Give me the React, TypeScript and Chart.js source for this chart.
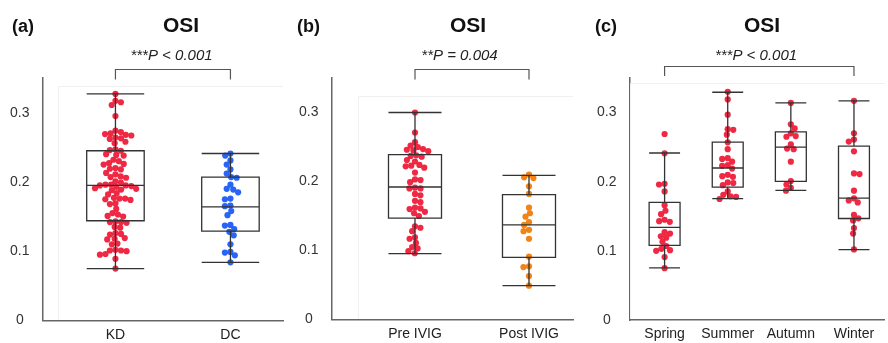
import React, { useEffect, useRef } from 'react';
import { Chart, registerables } from 'chart.js';

Chart.register(...registerables);

// ---------------- data ----------------
const Y_TICKS = [0, 0.1, 0.2, 0.3];
const Y_MAX = 0.35;

const TITLE = 'OSI';
const PANEL_LABELS = ['(a)', '(b)', '(c)'];
const P_LABELS = ['***P < 0.001', '**P = 0.004', '***P < 0.001'];

const CATEGORIES_A = ['KD', 'DC'];
const CATEGORIES_B = ['Pre IVIG', 'Post IVIG'];
const CATEGORIES_C = ['Spring', 'Summer', 'Autumn', 'Winter'];

const KD_VALUES = [
  0.327, 0.317, 0.315, 0.311, 0.295, 0.274, 0.272, 0.27, 0.268, 0.269, 0.267, 0.264, 0.262, 0.263,
  0.258, 0.256, 0.247, 0.246, 0.245, 0.24, 0.238, 0.239, 0.232, 0.23, 0.227, 0.226, 0.225, 0.22,
  0.218, 0.219, 0.213, 0.211, 0.208, 0.206, 0.207, 0.201, 0.199, 0.196, 0.195, 0.195, 0.194, 0.196,
  0.193, 0.19, 0.189, 0.191, 0.188, 0.184, 0.182, 0.177, 0.176, 0.175, 0.176, 0.174, 0.169, 0.168,
  0.161, 0.155, 0.153, 0.151, 0.15, 0.143, 0.142, 0.141, 0.142, 0.135, 0.134, 0.126, 0.125, 0.124,
  0.119, 0.118, 0.117, 0.111, 0.11, 0.102, 0.101, 0.101, 0.1, 0.096, 0.095, 0.089, 0.075,
];
const DC_VALUES = [
  0.241, 0.238, 0.231, 0.225, 0.218, 0.212, 0.207, 0.206, 0.196, 0.19, 0.189, 0.185, 0.176, 0.175,
  0.166, 0.165, 0.158, 0.152, 0.138, 0.137, 0.132, 0.128, 0.123, 0.11, 0.099, 0.098, 0.094, 0.084,
];
const PRE_IVIG_VALUES = [
  0.3, 0.271, 0.257, 0.252, 0.25, 0.247, 0.246, 0.245, 0.244, 0.238, 0.237, 0.236, 0.231, 0.229,
  0.224, 0.223, 0.222, 0.22, 0.213, 0.203, 0.202, 0.199, 0.191, 0.19, 0.19, 0.182, 0.18, 0.172,
  0.17, 0.162, 0.161, 0.16, 0.156, 0.154, 0.15, 0.135, 0.133, 0.128, 0.119, 0.117, 0.111, 0.105,
  0.103, 0.099, 0.096,
];
const POST_IVIG_VALUES = [
  0.21, 0.206, 0.205, 0.193, 0.182, 0.162, 0.154, 0.149, 0.141, 0.137, 0.13, 0.128, 0.117, 0.091,
  0.077, 0.076, 0.063, 0.049,
];
const SPRING_VALUES = [
  0.269, 0.241, 0.197, 0.196, 0.186, 0.166, 0.158, 0.153, 0.145, 0.143, 0.142, 0.127, 0.125, 0.121,
  0.119, 0.113, 0.107, 0.103, 0.101, 0.1, 0.091, 0.075,
];
const SUMMER_VALUES = [
  0.33, 0.319, 0.297, 0.276, 0.275, 0.268, 0.257, 0.247, 0.234, 0.233, 0.229, 0.224, 0.223, 0.219,
  0.21, 0.208, 0.207, 0.199, 0.198, 0.195, 0.186, 0.181, 0.179, 0.178, 0.175,
];
const AUTUMN_VALUES = [
  0.314, 0.283, 0.277, 0.27, 0.266, 0.265, 0.254, 0.248, 0.247, 0.229, 0.201, 0.196, 0.191, 0.187,
];
const WINTER_VALUES = [
  0.317, 0.27, 0.261, 0.258, 0.244, 0.212, 0.211, 0.187, 0.176, 0.173, 0.17, 0.152, 0.147, 0.144,
  0.133, 0.125, 0.102,
];

// box statistics: [lower whisker, Q1, median, Q3, upper whisker]
const KD_BOX = [0.075, 0.144, 0.195, 0.245, 0.327];
const DC_BOX = [0.084, 0.129, 0.164, 0.207, 0.241];
const PRE_IVIG_BOX = [0.0955, 0.147, 0.192, 0.239, 0.3];
const POST_IVIG_BOX = [0.049, 0.09, 0.137, 0.181, 0.209];
const SPRING_BOX = [0.0754, 0.108, 0.134, 0.17, 0.2415];
const SUMMER_BOX = [0.1754, 0.1922, 0.2198, 0.2574, 0.3294];
const AUTUMN_BOX = [0.1874, 0.2005, 0.25, 0.272, 0.314];
const WINTER_BOX = [0.1019, 0.1468, 0.1763, 0.2516, 0.3169];

// ---------------- styles ----------------
const RED = 'rgba(238, 30, 58, 0.95)';
const BLUE = 'rgba(28, 92, 245, 0.95)';
const ORANGE = 'rgba(240, 125, 10, 0.95)';
const FONT = "'Liberation Sans', Arial, Helvetica, sans-serif";
const AXIS_COLOR = '#666666';
const BOX_COLOR = '#333333';
const H = 343;

type Spec = {
  key: string;
  left: number;
  width: number;
  axisLeft: number;
  plotRight: number;
  plotTop: number;
  plotBottom: number;
  xMin: number;
  xMax: number;
  categories: string[];
  groups: number[][];
  boxes: number[][];
  colors: string[];
  boxWidth: number;
  label: string;
  labelX: number;
  titleX: number;
  pText: string;
  pX: number;
  bracket: [number, number];
  bracketY: number;
  bracketDrop: number;
  faint: [number, number];
};

const PANELS: Spec[] = [
  {
    key: 'a', left: 0, width: 290, axisLeft: 43, plotRight: 283, plotTop: 78, plotBottom: 320.5,
    xMin: -0.63, xMax: 1.457, categories: CATEGORIES_A, groups: [KD_VALUES, DC_VALUES],
    boxes: [KD_BOX, DC_BOX], colors: [RED, BLUE], boxWidth: 0.5,
    label: PANEL_LABELS[0], labelX: 12, titleX: 181, pText: P_LABELS[0], pX: 171.5,
    bracket: [0, 1], bracketY: 69.5, bracketDrop: 10, faint: [58, 86],
  },
  {
    key: 'b', left: 290, width: 290, axisLeft: 42, plotRight: 283, plotTop: 78, plotBottom: 319.5,
    xMin: -0.728, xMax: 1.386, categories: CATEGORIES_B, groups: [PRE_IVIG_VALUES, POST_IVIG_VALUES],
    boxes: [PRE_IVIG_BOX, POST_IVIG_BOX], colors: [RED, ORANGE], boxWidth: 0.465,
    label: PANEL_LABELS[1], labelX: 7, titleX: 178, pText: P_LABELS[1], pX: 169.5,
    bracket: [0, 1], bracketY: 69.5, bracketDrop: 10, faint: [68, 96],
  },
  {
    key: 'c', left: 580, width: 308, axisLeft: 50, plotRight: 308, plotTop: 78, plotBottom: 320,
    xMin: -0.548, xMax: 3.49, categories: CATEGORIES_C,
    groups: [SPRING_VALUES, SUMMER_VALUES, AUTUMN_VALUES, WINTER_VALUES],
    boxes: [SPRING_BOX, SUMMER_BOX, AUTUMN_BOX, WINTER_BOX], colors: [RED, RED, RED, RED], boxWidth: 0.49,
    label: PANEL_LABELS[2], labelX: 15, titleX: 182, pText: P_LABELS[2], pX: 176,
    bracket: [0, 3], bracketY: 66.5, bracketDrop: 9.5, faint: [50, 83],
  },
];

// beeswarm layout in pixel space
function swarm(ys: number[], D: number): number[] {
  const order = ys.map((_, i) => i).sort((a, b) => ys[a] - ys[b]);
  const placed: { x: number; y: number }[] = [];
  const out = new Array(ys.length).fill(0);
  order.forEach((i, n) => {
    const y = ys[i];
    const near = placed.filter((p) => Math.abs(p.y - y) < D);
    const cands = [0];
    near.forEach((p) => {
      const dx = Math.sqrt(D * D - (p.y - y) * (p.y - y));
      cands.push(p.x + dx, p.x - dx);
    });
    const ok = cands.filter((c) =>
      near.every((p) => (p.x - c) * (p.x - c) + (p.y - y) * (p.y - y) >= D * D - 1e-6)
    );
    const sign = n % 2 === 0 ? 1 : -1;
    ok.sort((a, b) => Math.abs(a) - Math.abs(b) || sign * (b - a));
    const x = ok[0];
    placed.push({ x, y });
    out[i] = x;
  });
  return out;
}

function makeDecor(spec: Spec) {
  return {
    id: 'decor_' + spec.key,
    beforeDatasetsDraw(chart: any) {
      const { ctx, chartArea } = chart;
      ctx.save();
      ctx.strokeStyle = '#f0f0f0';
      ctx.lineWidth = 1;
      ctx.beginPath();
      ctx.moveTo(spec.faint[0] + 0.5, chartArea.bottom - 1);
      ctx.lineTo(spec.faint[0] + 0.5, spec.faint[1] + 0.5);
      ctx.lineTo(chartArea.right, spec.faint[1] + 0.5);
      ctx.stroke();
      ctx.restore();
    },
    afterDatasetsDraw(chart: any) {
      const { ctx } = chart;
      const x = chart.scales.x;
      const y = chart.scales.y;
      ctx.save();
      ctx.strokeStyle = BOX_COLOR;
      ctx.lineWidth = 1.3;
      spec.boxes.forEach((b, i) => {
        const cx = x.getPixelForValue(i);
        const half = (x.getPixelForValue(i + spec.boxWidth / 2) - x.getPixelForValue(i - spec.boxWidth / 2)) / 2;
        const [lo, q1, md, q3, hi] = b.map((v) => y.getPixelForValue(v));
        ctx.beginPath();
        ctx.rect(cx - half, q3, 2 * half, q1 - q3);
        ctx.moveTo(cx - half, md);
        ctx.lineTo(cx + half, md);
        ctx.moveTo(cx, q3);
        ctx.lineTo(cx, hi);
        ctx.moveTo(cx, q1);
        ctx.lineTo(cx, lo);
        ctx.moveTo(cx - half, hi);
        ctx.lineTo(cx + half, hi);
        ctx.moveTo(cx - half, lo);
        ctx.lineTo(cx + half, lo);
        ctx.stroke();
      });
      ctx.restore();
    },
    afterDraw(chart: any) {
      const { ctx } = chart;
      const x = chart.scales.x;
      ctx.save();
      ctx.fillStyle = '#111';
      ctx.textBaseline = 'middle';
      ctx.font = `bold 18px ${FONT}`;
      ctx.textAlign = 'left';
      ctx.fillText(spec.label, spec.labelX, 27);
      ctx.font = `bold 21px ${FONT}`;
      ctx.textAlign = 'center';
      ctx.fillText(TITLE, spec.titleX, 26);
      ctx.font = `italic 15px ${FONT}`;
      ctx.fillStyle = '#222';
      ctx.fillText(spec.pText, spec.pX, 56);
      const x0 = x.getPixelForValue(spec.bracket[0]);
      const x1 = x.getPixelForValue(spec.bracket[1]);
      ctx.strokeStyle = '#555';
      ctx.lineWidth = 1.2;
      ctx.beginPath();
      ctx.moveTo(x0, spec.bracketY + spec.bracketDrop);
      ctx.lineTo(x0, spec.bracketY);
      ctx.lineTo(x1, spec.bracketY);
      ctx.lineTo(x1, spec.bracketY + spec.bracketDrop);
      ctx.stroke();
      ctx.restore();
    },
  };
}

function Panel({ spec }: { spec: Spec }) {
  const ref = useRef<HTMLCanvasElement>(null);
  useEffect(() => {
    const canvas = ref.current!;
    const datasets = spec.groups.map((vals, gi) => ({
      label: spec.categories[gi],
      data: vals.map((v) => ({ x: gi, y: v })),
      pointRadius: 3.1,
      pointHoverRadius: 3.1,
      pointBackgroundColor: spec.colors[gi],
      pointBorderWidth: 0,
      borderWidth: 0,
    }));
    const chart = new Chart(canvas, {
      type: 'scatter',
      data: { datasets },
      options: {
        animation: false,
        responsive: false,
        devicePixelRatio: 1,
        events: [],
        layout: { padding: { left: 0, right: spec.width - spec.plotRight, top: spec.plotTop, bottom: 0 } },
        plugins: { legend: { display: false }, tooltip: { enabled: false }, title: { display: false } },
        scales: {
          x: {
            type: 'linear',
            min: spec.xMin,
            max: spec.xMax,
            grid: { display: false, drawTicks: false },
            border: { display: true, color: AXIS_COLOR, width: 1.5 },
            afterBuildTicks: (s: any) => {
              s.ticks = spec.categories.map((_, i) => ({ value: i }));
            },
            afterFit: (s: any) => {
              s.height = H - spec.plotBottom;
            },
            ticks: {
              callback: (v: any) => spec.categories[Math.round(Number(v))] ?? '',
              font: { family: FONT, size: 14 },
              color: '#222',
              padding: 6,
              maxRotation: 0,
              autoSkip: false,
            },
          },
          y: {
            type: 'linear',
            min: 0,
            max: Y_MAX,
            grid: { display: false, drawTicks: false },
            border: { display: true, color: AXIS_COLOR, width: 1.5 },
            afterBuildTicks: (s: any) => {
              s.ticks = Y_TICKS.map((v) => ({ value: v }));
            },
            afterFit: (s: any) => {
              s.width = spec.axisLeft;
            },
            ticks: {
              callback: (v: any) => String(v),
              crossAlign: 'center',
              padding: 13.5,
              font: { family: FONT, size: 14 },
              color: '#333',
            },
          },
        },
      } as any,
      plugins: [makeDecor(spec)],
    });

    // beeswarm offsets computed through the chart's own scales
    const xs: any = chart.scales.x;
    const ys: any = chart.scales.y;
    const unit = xs.getPixelForValue(1) - xs.getPixelForValue(0);
    spec.groups.forEach((vals, gi) => {
      const offs = swarm(vals.map((v) => ys.getPixelForValue(v)), 5.6);
      (chart.data.datasets[gi] as any).data = vals.map((v, k) => ({ x: gi + offs[k] / unit, y: v }));
    });
    chart.update('none');

    return () => chart.destroy();
  }, [spec]);

  return (
    <canvas
      ref={ref}
      width={spec.width}
      height={H}
      style={{ position: 'absolute', left: spec.left, top: 0, width: spec.width, height: H }}
    />
  );
}

export default function App() {
  return (
    <div style={{ position: 'absolute', left: 0, top: 0, width: 888, height: H, background: '#fff', overflow: 'hidden' }}>
      {PANELS.map((p) => (
        <Panel key={p.key} spec={p} />
      ))}
    </div>
  );
}
